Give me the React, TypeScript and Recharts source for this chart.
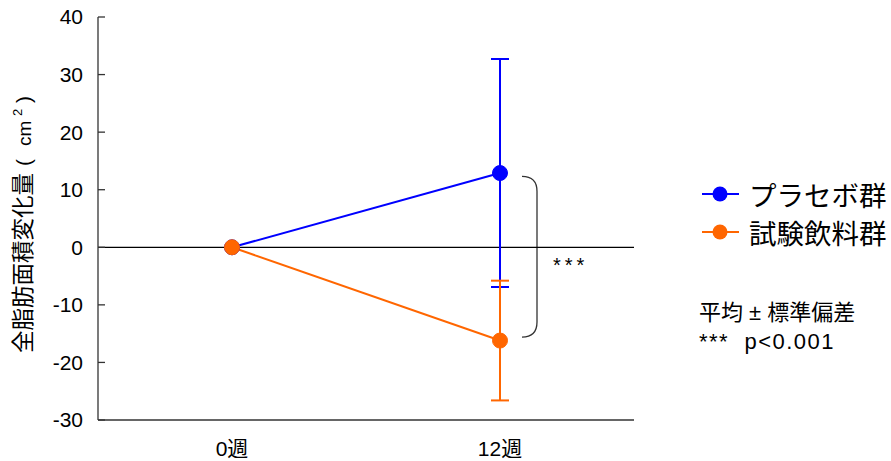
import React from 'react';
import { LineChart, Line, XAxis, YAxis, ErrorBar, ReferenceLine, ReferenceArea } from 'recharts';

document.body.style.margin = '0';

const categories = ['0週', '12週'];
const placeboMean = [0, 12.9];
const placeboSd = [0, 19.8];
const drinkMean = [0, -16.2];
const drinkSd = [0, 10.4];
const yTicks = [-30, -20, -10, 0, 10, 20, 30, 40];

const BLUE = '#0000FF';
const ORANGE = '#FF6600';
const AXIS = '#333333';
const FONT = '"Liberation Sans", Arial, "Noto Sans CJK JP", sans-serif';

const data = categories.map((c, i) => ({
  name: c,
  placebo: placeboMean[i],
  placeboErr: placeboSd[i],
  drink: drinkMean[i],
  drinkErr: drinkSd[i],
}));

const legendItems = [
  { label: 'プラセボ群', color: BLUE },
  { label: '試験飲料群', color: ORANGE },
];

// bracket between the two 12-week means
const Brace = (props: any) => {
  const { x, y, height } = props;
  const bx = x + 22;
  const top = y;
  const bot = y + height;
  const mid = (top + bot) / 2;
  return (
    <g>
      <path
        d={`M${bx},${top} Q${bx + 15},${top} ${bx + 15},${top + 15} L${bx + 15},${bot - 15} Q${bx + 15},${bot} ${bx},${bot}`}
        fill="none"
        stroke={AXIS}
        strokeWidth={1.3}
      />
      <text x={bx + 31} y={mid + 15} fontSize={20} fontFamily={FONT} letterSpacing={4} fill="#000">
        ***
      </text>
    </g>
  );
};

// rotated y-axis title; 0 offset is the bottom end of the text
const YLabel = () => {
  const cx = 31;
  const cy = 353;
  return (
    <text x={cx} y={cy} transform={`rotate(-90, ${cx}, ${cy})`} fontFamily={FONT} fill="#000">
      <tspan fontSize={22.5}>全脂肪面積変化量</tspan>
      <tspan x={cx + 187} fontSize={21}>(</tspan>
      <tspan x={cx + 207} fontSize={19}>cm</tspan>
      <tspan x={cx + 237} dy={-9} fontSize={13}>2</tspan>
      <tspan x={cx + 250} dy={9} fontSize={21}>)</tspan>
    </text>
  );
};

export default function App() {
  return (
    <div style={{ position: 'relative', width: 891, height: 461, background: '#fff' }}>
      <LineChart width={891} height={461} data={data} margin={{ top: 17, right: 257, bottom: 0, left: 0 }}>
        <XAxis
          dataKey="name"
          height={41}
          padding={{ left: 134, right: 134 }}
          tickLine={false}
          tickSize={0}
          tickMargin={21}
          axisLine={{ stroke: AXIS, strokeWidth: 1.3 }}
          tick={{ fontSize: 21, fill: '#000', fontFamily: FONT }}
        />
        <XAxis xAxisId="top" dataKey="name" orientation="top" height={0} tick={false} tickLine={false} axisLine={{ stroke: AXIS, strokeWidth: 1.3 }} />
        <YAxis
          width={98}
          domain={[-30, 40]}
          ticks={yTicks}
          interval={0}
          tickSize={-7}
          tickMargin={22}
          tickLine={{ stroke: AXIS, strokeWidth: 1.3 }}
          axisLine={{ stroke: AXIS, strokeWidth: 1.3 }}
          tick={{ fontSize: 21, fill: '#000', fontFamily: FONT }}
          label={{ content: YLabel }}
        />
        <YAxis yAxisId="right" orientation="right" width={0} domain={[-30, 40]} tick={false} tickLine={false} axisLine={{ stroke: AXIS, strokeWidth: 1.3 }} />
        <ReferenceLine y={0} stroke="#000" strokeWidth={1.2} />
        <Line
          dataKey="placebo"
          stroke={BLUE}
          strokeWidth={2}
          dot={{ r: 7.5, fill: BLUE, stroke: BLUE, strokeWidth: 1 }}
          activeDot={false}
          isAnimationActive={false}
        >
          <ErrorBar dataKey="placeboErr" width={9} stroke={BLUE} strokeWidth={2} direction="y" />
        </Line>
        <Line
          dataKey="drink"
          stroke={ORANGE}
          strokeWidth={2}
          dot={{ r: 7.5, fill: ORANGE, stroke: ORANGE, strokeWidth: 1 }}
          activeDot={false}
          isAnimationActive={false}
        >
          <ErrorBar dataKey="drinkErr" width={9} stroke={ORANGE} strokeWidth={2} direction="y" />
        </Line>
        <ReferenceArea x1="12週" x2="12週" y1={-15.6} y2={12.3} ifOverflow="visible" shape={Brace} />
      </LineChart>
      <div style={{ position: 'absolute', left: 701, top: 175, fontFamily: FONT }}>
        {legendItems.map((it) => (
          <div key={it.label} style={{ display: 'flex', alignItems: 'center', height: 38 }}>
            <svg width={40} height={20} style={{ marginRight: 8 }}>
              <line x1={1} y1={10} x2={38} y2={10} stroke={it.color} strokeWidth={2} />
              <circle cx={19} cy={10} r={7.5} fill={it.color} />
            </svg>
            <span style={{ fontSize: 27.5, color: '#000', whiteSpace: 'nowrap' }}>{it.label}</span>
          </div>
        ))}
      </div>
      <div
        style={{
          position: 'absolute',
          left: 699,
          top: 298,
          fontFamily: FONT,
          fontSize: 22,
          lineHeight: '29px',
          color: '#000',
          whiteSpace: 'pre',
        }}
      >
        <div>平均 ± 標準偏差</div>
        <div style={{ letterSpacing: 1.5 }}>{'***  p<0.001'}</div>
      </div>
    </div>
  );
}
